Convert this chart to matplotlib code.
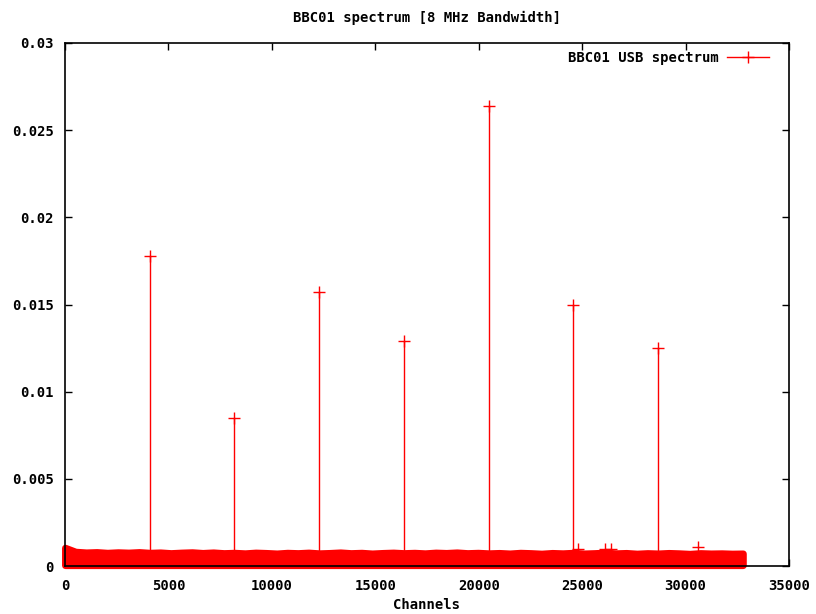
import numpy as np
import matplotlib.pyplot as plt

# tone channels and peak power
peak_ch = [4096, 8192, 12288, 16384, 20480, 24576, 28672]
peak_val = [0.0178, 0.0085, 0.0157, 0.0129, 0.0264, 0.0150, 0.0125]

# noise floor envelope (upper edge), every 512 channels
noise_ch = list(range(0, 32768, 512)) + [32767]
noise_top = [0.00105, 0.00082, 0.00078, 0.00080, 0.00076, 0.00079, 0.00077, 0.00080,
             0.00076, 0.00078, 0.00074, 0.00077, 0.00079, 0.00075, 0.00078, 0.00074,
             0.00076, 0.00073, 0.00077, 0.00075, 0.00072, 0.00076, 0.00074, 0.00077,
             0.00073, 0.00075, 0.00078, 0.00074, 0.00076, 0.00072, 0.00075, 0.00077,
             0.00074, 0.00076, 0.00073, 0.00077, 0.00075, 0.00078, 0.00074, 0.00076,
             0.00073, 0.00075, 0.00072, 0.00076, 0.00074, 0.00071, 0.00075, 0.00073,
             0.00076, 0.00072, 0.00074, 0.00077, 0.00073, 0.00075, 0.00071, 0.00074,
             0.00072, 0.00075, 0.00073, 0.00070, 0.00074, 0.00072, 0.00073, 0.00071,
             0.00072]
noise_low = 0.00005

# a few stray noise points standing above the floor
stray_ch = [24800, 26100, 26400, 30600]
stray_val = [0.00095, 0.00100, 0.00098, 0.00110]

xticks = [0, 5000, 10000, 15000, 20000, 25000, 30000, 35000]
yticks = [0, 0.005, 0.01, 0.015, 0.02, 0.025, 0.03]
ytick_labels = ['0', '0.005', '0.01', '0.015', '0.02', '0.025', '0.03']

plt.rcParams['font.family'] = ['DejaVu Sans Mono']
plt.rcParams['font.weight'] = 'bold'
plt.rcParams['font.size'] = 10

fig = plt.figure(figsize=(8.16, 6.14), dpi=100)
ax = fig.add_axes([65 / 816, 1 - 566 / 614, (789 - 65) / 816, (566 - 43) / 614])

red = '#ff0000'

# noise floor as a solid band (markers make it thick in the original)
ax.fill_between(noise_ch, noise_low, noise_top, color=red, edgecolor=red,
                linewidth=5, zorder=2, clip_on=False)

# tones
ax.vlines(peak_ch, 0, peak_val, color=red, linewidth=1, zorder=2)
ax.plot(peak_ch, peak_val, linestyle='none', marker='+', markersize=8,
        markeredgewidth=1, color=red, zorder=3)
ax.plot(stray_ch, stray_val, linestyle='none', marker='+', markersize=8,
        markeredgewidth=1, color=red, zorder=3)

# legend entry drawn like gnuplot's key
ax.plot([], [], color=red, linewidth=1, marker='+', markersize=8,
        label='BBC01 USB spectrum')
leg = ax.legend(loc='upper right', frameon=False, markerfirst=False,
                handlelength=3.0, borderaxespad=0.0, handletextpad=0.6,
                bbox_to_anchor=(0.98, 0.995))
for t in leg.get_texts():
    t.set_fontweight('bold')

ax.set_xlim(0, 35000)
ax.set_ylim(0, 0.03)
ax.set_xticks(xticks)
ax.set_xticklabels([str(t) for t in xticks])
ax.set_yticks(yticks)
ax.set_yticklabels(ytick_labels)
ax.tick_params(direction='in', length=5, width=1, top=True, right=True,
               labelsize=10)
ax.tick_params(axis='y', pad=8)
ax.tick_params(axis='x', pad=9)

for s in ax.spines.values():
    s.set_linewidth(1.2)
    s.set_zorder(4)

ax.set_xlabel('Channels', labelpad=4, fontweight='bold')
ax.set_title('BBC01 spectrum [8 MHz Bandwidth]', pad=15, fontsize=10,
             fontweight='bold')

fig.savefig('out.png', dpi=100)
